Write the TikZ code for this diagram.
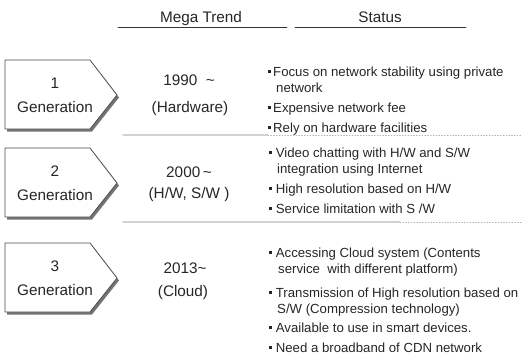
\documentclass[tikz,border=0pt]{standalone}
\usepackage{fontspec}
\setmainfont{Liberation Sans}
\usetikzlibrary{shadows}
\newcommand{\sqbullet}{\rule[0.22em]{3pt}{3pt}}

\begin{document}
\begin{tikzpicture}
    [line cap=round,line join=round,x=1pt,y=-1pt,
     big/.style={font=\fontsize{15.3}{18}\selectfont,text=black!85,inner sep=0pt,anchor=base},
     item/.style={font=\fontsize{13.2}{16}\selectfont,text=black!85,inner sep=0pt,align=left,anchor=north west},
     genbox/.style={draw=black!70,fill=white,line width=0.8pt,
        drop shadow={shadow xshift=2pt,shadow yshift=-2.5pt,fill=black!55,opacity=1}}]
\useasboundingbox (0,0) rectangle (522,356);
%headers
\node[big] (trend) at (201,23) {Mega Trend};
\node[big] (status) at (380,23) {Status};
\draw[black!80,line width=0.8pt] (118,27) -- (287,27);
\draw[black!80,line width=0.8pt] (295,27) -- (466,27);
%generation boxes
\foreach \t/\n in {60/1,148/2,243/3}
{
  \draw[genbox] (5,\t) -- (90,\t) -- (117,\t+35) -- (90,\t+69) -- (5,\t+69) -- cycle;
  \node[big] (num\n) at (55,\t+28) {\n};
  \node[big] (gen\n) at (55,\t+52) {Generation};
}
%separators
\draw[gray!35,line width=1.2pt] (123,135) -- (268,135);
\draw[gray!60,dotted,line width=0.8pt] (268,135) -- (522,135);
\draw[gray!35,line width=1.2pt] (123,222) -- (400,222);
\draw[gray!60,dotted,line width=0.8pt] (400,222) -- (522,222);
%mega trend
\node[big] (y1) at (189,85) {1990 \ \textasciitilde};
\node[big] (t1) at (190,112) {(Hardware)};
\node[big] (y2) at (189,177) {2000\,\textasciitilde};
\node[big] (t2) at (189,198) {(H/W, S/W )};
\node[big] (y3) at (185,273) {2013\textasciitilde};
\node[big] (t3) at (183,296) {(Cloud)};
%status (top of first line = baseline - 11.2)
\node[item] (s1a) at (268,64.8) {\strut\sqbullet\hspace{2pt}Focus on network stability using private\\\hspace*{8pt}network};
\node[item] (s1b) at (268,100.8) {\strut\sqbullet\hspace{2pt}Expensive network fee};
\node[item] (s1c) at (268,120.8) {\strut\sqbullet\hspace{2pt}Rely on hardware facilities};
\node[item] (s2a) at (269,145.8) {\strut\sqbullet\ Video chatting with H/W and S/W\\\hspace*{8pt}integration using Internet};
\node[item] (s2b) at (269,181.8) {\strut\sqbullet\ High resolution based on H/W};
\node[item] (s2c) at (269,201.8) {\strut\sqbullet\ Service limitation with S /W};
\node[item] (s3a) at (269,245.8) {\strut\sqbullet\ Accessing Cloud system (Contents\\\hspace*{9pt}service\ \ with different platform)};
\node[item] (s3b) at (269,285.8) {\strut\sqbullet\ Transmission of High resolution based on\\\hspace*{8pt}S/W (Compression technology)};
\node[item] (s3c) at (269,320.8) {\strut\sqbullet\ Available to use in smart devices.};
\node[item] (s3d) at (269,340.8) {\strut\sqbullet\ Need a broadband of CDN network};
 \end{tikzpicture}
\end{document}
